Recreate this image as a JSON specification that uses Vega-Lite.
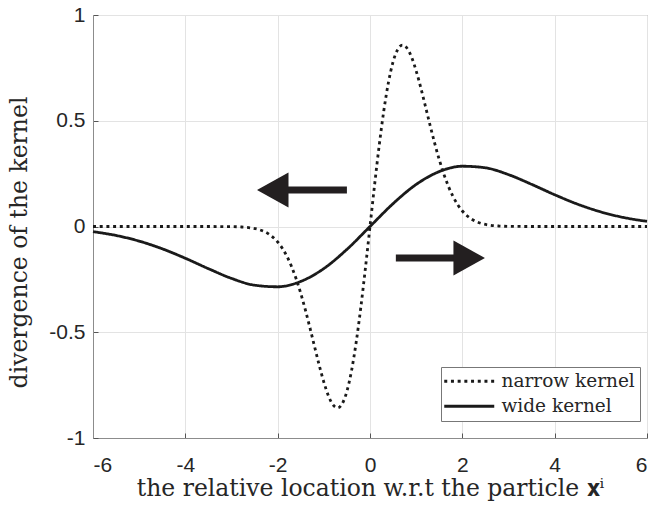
{
  "$schema": "https://vega.github.io/schema/vega-lite/v6.json",
  "width": 554,
  "height": 423,
  "autosize": "none",
  "padding": {"left": 93, "top": 15, "right": 7, "bottom": 70},
  "background": "white",
  "config": {
    "view": {"stroke": "#8c8c8c", "strokeWidth": 1},
    "axis": {
      "grid": true,
      "gridColor": "#e3e3e3",
      "gridWidth": 1,
      "domainColor": "#8c8c8c",
      "domainWidth": 1,
      "ticks": true,
      "tickSize": -5,
      "tickColor": "#555555",
      "tickWidth": 1,
      "labelFont": "Liberation Sans",
      "labelFontSize": 21,
      "labelColor": "#262626",
      "titleFont": "DejaVu Serif",
      "titleFontSize": 23.5,
      "titleFontWeight": "normal",
      "titleColor": "#262626"
    }
  },
  "datasets": {
    "curves": [
      {"x": -6, "y": 0, "series": "narrow kernel"},
      {"x": -5, "y": 0, "series": "narrow kernel"},
      {"x": -4, "y": 0, "series": "narrow kernel"},
      {"x": -3.5, "y": -0.00003, "series": "narrow kernel"},
      {"x": -3.0, "y": -0.0007, "series": "narrow kernel"},
      {"x": -2.8, "y": -0.0022, "series": "narrow kernel"},
      {"x": -2.6, "y": -0.006, "series": "narrow kernel"},
      {"x": -2.4, "y": -0.0151, "series": "narrow kernel"},
      {"x": -2.2, "y": -0.0348, "series": "narrow kernel"},
      {"x": -2.0, "y": -0.0733, "series": "narrow kernel"},
      {"x": -1.9, "y": -0.1028, "series": "narrow kernel"},
      {"x": -1.8, "y": -0.141, "series": "narrow kernel"},
      {"x": -1.7, "y": -0.189, "series": "narrow kernel"},
      {"x": -1.6, "y": -0.2474, "series": "narrow kernel"},
      {"x": -1.5, "y": -0.3162, "series": "narrow kernel"},
      {"x": -1.4, "y": -0.3944, "series": "narrow kernel"},
      {"x": -1.3, "y": -0.4798, "series": "narrow kernel"},
      {"x": -1.2, "y": -0.5686, "series": "narrow kernel"},
      {"x": -1.1, "y": -0.6561, "series": "narrow kernel"},
      {"x": -1.0, "y": -0.7358, "series": "narrow kernel"},
      {"x": -0.9, "y": -0.8008, "series": "narrow kernel"},
      {"x": -0.8, "y": -0.8437, "series": "narrow kernel"},
      {"x": -0.7, "y": -0.8577, "series": "narrow kernel"},
      {"x": -0.6, "y": -0.8372, "series": "narrow kernel"},
      {"x": -0.5, "y": -0.7788, "series": "narrow kernel"},
      {"x": -0.4, "y": -0.6817, "series": "narrow kernel"},
      {"x": -0.3, "y": -0.5483, "series": "narrow kernel"},
      {"x": -0.2, "y": -0.3843, "series": "narrow kernel"},
      {"x": -0.1, "y": -0.198, "series": "narrow kernel"},
      {"x": 0, "y": 0, "series": "narrow kernel"},
      {"x": 0.1, "y": 0.198, "series": "narrow kernel"},
      {"x": 0.2, "y": 0.3843, "series": "narrow kernel"},
      {"x": 0.3, "y": 0.5483, "series": "narrow kernel"},
      {"x": 0.4, "y": 0.6817, "series": "narrow kernel"},
      {"x": 0.5, "y": 0.7788, "series": "narrow kernel"},
      {"x": 0.6, "y": 0.8372, "series": "narrow kernel"},
      {"x": 0.7, "y": 0.8577, "series": "narrow kernel"},
      {"x": 0.8, "y": 0.8437, "series": "narrow kernel"},
      {"x": 0.9, "y": 0.8008, "series": "narrow kernel"},
      {"x": 1.0, "y": 0.7358, "series": "narrow kernel"},
      {"x": 1.1, "y": 0.6561, "series": "narrow kernel"},
      {"x": 1.2, "y": 0.5686, "series": "narrow kernel"},
      {"x": 1.3, "y": 0.4798, "series": "narrow kernel"},
      {"x": 1.4, "y": 0.3944, "series": "narrow kernel"},
      {"x": 1.5, "y": 0.3162, "series": "narrow kernel"},
      {"x": 1.6, "y": 0.2474, "series": "narrow kernel"},
      {"x": 1.7, "y": 0.189, "series": "narrow kernel"},
      {"x": 1.8, "y": 0.141, "series": "narrow kernel"},
      {"x": 1.9, "y": 0.1028, "series": "narrow kernel"},
      {"x": 2.0, "y": 0.0733, "series": "narrow kernel"},
      {"x": 2.2, "y": 0.0348, "series": "narrow kernel"},
      {"x": 2.4, "y": 0.0151, "series": "narrow kernel"},
      {"x": 2.6, "y": 0.006, "series": "narrow kernel"},
      {"x": 2.8, "y": 0.0022, "series": "narrow kernel"},
      {"x": 3.0, "y": 0.0007, "series": "narrow kernel"},
      {"x": 3.5, "y": 0.00003, "series": "narrow kernel"},
      {"x": 4, "y": 0, "series": "narrow kernel"},
      {"x": 5, "y": 0, "series": "narrow kernel"},
      {"x": 6, "y": 0, "series": "narrow kernel"},
      {"x": -6.0, "y": -0.0244, "series": "wide kernel"},
      {"x": -5.5, "y": -0.0424, "series": "wide kernel"},
      {"x": -5.0, "y": -0.0691, "series": "wide kernel"},
      {"x": -4.5, "y": -0.1054, "series": "wide kernel"},
      {"x": -4.0, "y": -0.1502, "series": "wide kernel"},
      {"x": -3.5, "y": -0.1994, "series": "wide kernel"},
      {"x": -3.0, "y": -0.2453, "series": "wide kernel"},
      {"x": -2.5, "y": -0.2775, "series": "wide kernel"},
      {"x": -2.0, "y": -0.285, "series": "wide kernel"},
      {"x": -1.5, "y": -0.2596, "series": "wide kernel"},
      {"x": -1.0, "y": -0.1988, "series": "wide kernel"},
      {"x": -0.5, "y": -0.1081, "series": "wide kernel"},
      {"x": 0, "y": 0, "series": "wide kernel"},
      {"x": 0.5, "y": 0.1081, "series": "wide kernel"},
      {"x": 1.0, "y": 0.1988, "series": "wide kernel"},
      {"x": 1.5, "y": 0.2596, "series": "wide kernel"},
      {"x": 2.0, "y": 0.285, "series": "wide kernel"},
      {"x": 2.5, "y": 0.2775, "series": "wide kernel"},
      {"x": 3.0, "y": 0.2453, "series": "wide kernel"},
      {"x": 3.5, "y": 0.1994, "series": "wide kernel"},
      {"x": 4.0, "y": 0.1502, "series": "wide kernel"},
      {"x": 4.5, "y": 0.1054, "series": "wide kernel"},
      {"x": 5.0, "y": 0.0691, "series": "wide kernel"},
      {"x": 5.5, "y": 0.0424, "series": "wide kernel"},
      {"x": 6.0, "y": 0.0244, "series": "wide kernel"}
    ],
    "arrows": [
      {"tail": -0.5, "head": -2.107, "y": 0.173, "dir": "left"},
      {"tail": 0.56, "head": 2.149, "y": -0.149, "dir": "right"}
    ]
  },
  "layer": [
    {
      "data": {"name": "curves"},
      "mark": {"type": "line", "color": "#1a1a1a", "strokeWidth": 2.8, "interpolate": "monotone", "strokeCap": "butt"},
      "encoding": {
        "x": {
          "field": "x", "type": "quantitative",
          "scale": {"domain": [-6, 6], "nice": false, "zero": false},
          "axis": {
            "values": [-6, -4, -2, 0, 2, 4, 6],
            "labelExpr": "datum.value + ''",
            "labelPadding": 21,
            "title": "the relative location w.r.t the particle 𝐱ⁱ",
            "titleBaseline": "alphabetic",
            "titleY": 57
          }
        },
        "y": {
          "field": "y", "type": "quantitative",
          "scale": {"domain": [-1, 1], "nice": false},
          "axis": {
            "values": [-1, -0.5, 0, 0.5, 1],
            "labelExpr": "datum.value + ''",
            "labelPadding": 13,
            "title": "divergence of the kernel",
            "titleBaseline": "alphabetic",
            "titleX": -67,
            "titleY": 227
          }
        },
        "strokeDash": {
          "field": "series", "type": "nominal",
          "scale": {"domain": ["narrow kernel", "wide kernel"], "range": [[3, 3.7], [1, 0]]},
          "legend": {
            "title": null,
            "orient": "none",
            "legendX": 348,
            "legendY": 352,
            "padding": 5,
            "fillColor": "white",
            "strokeColor": "#777777",
            "symbolType": "M-5,0H5",
            "symbolSize": 100,
            "symbolOffset": 14,
            "symbolStrokeWidth": 3,
            "symbolStrokeColor": "#1a1a1a",
            "labelFont": "DejaVu Serif",
            "labelFontSize": 18.5,
            "labelColor": "#262626",
            "labelOffset": 23,
            "rowPadding": 6
          }
        }
      }
    },
    {
      "data": {"name": "arrows"},
      "mark": {"type": "rule", "color": "#231f20", "strokeWidth": 7, "strokeCap": "butt"},
      "encoding": {
        "x": {"field": "tail", "type": "quantitative"},
        "x2": {"field": "head"},
        "y": {"field": "y", "type": "quantitative"}
      }
    },
    {
      "data": {"name": "arrows"},
      "mark": {"type": "point", "filled": true, "opacity": 1, "color": "#231f20", "size": 1225, "strokeWidth": 0},
      "encoding": {
        "x": {"field": "head", "type": "quantitative"},
        "y": {"field": "y", "type": "quantitative"},
        "shape": {
          "field": "dir", "type": "nominal",
          "scale": {"domain": ["left", "right"], "range": ["M0.9,-1L-0.9,0L0.9,1Z", "M-0.9,-1L0.9,0L-0.9,1Z"]},
          "legend": null
        }
      }
    }
  ]
}
